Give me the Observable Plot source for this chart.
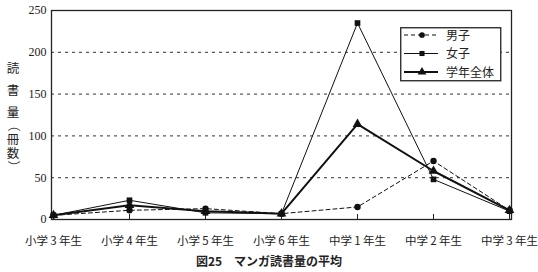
<!DOCTYPE html>
<html><head><meta charset="utf-8">
<script src="https://cdn.jsdelivr.net/npm/d3@7"></script>
<script src="https://cdn.jsdelivr.net/npm/@observablehq/plot@0.6"></script>
<style>
body{margin:0;background:#fff;}
#wrap{position:relative;width:538px;height:272px;font-family:"Noto Sans CJK JP",sans-serif;}
#ytitle{position:absolute;left:0;top:0;}
#caption{position:absolute;left:0;top:252px;width:538px;text-align:center;font-size:12px;font-weight:bold;color:#222;}
#legend{position:absolute;left:400px;top:27px;}
</style></head>
<body><div id="wrap"></div>
<script>
const categories = ["小学3年生","小学4年生","小学5年生","小学6年生","中学1年生","中学2年生","中学3年生"];
const seriesNames = ["男子","女子","学年全体"];
const boys  = [5, 11, 13, 7, 15, 70, 11];
const girls = [5, 23, 8, 7, 235, 48, 10];
const total = [5, 17, 10, 7, 114, 58, 11];
const yTicks = [0, 50, 100, 150, 200, 250];
const gridTicks = [50, 100, 150, 200];
const yTitle = "読書量（冊数）";

const styles = [
  {symbol:"circle", dash:"4,3", sw:1, r:3.2},
  {symbol:"square", dash:null, sw:1, r:3.2},
  {symbol:"triangle", dash:null, sw:2, r:3.6}
];
const valuesBySeries = [boys, girls, total];
const rows = [];
valuesBySeries.forEach((vals, s) => vals.forEach((v, i) => rows.push({series: seriesNames[s], cat: categories[i], v})));

const wrap = document.getElementById("wrap");
const marks = [
  Plot.ruleY(gridTicks, {stroke:"#333", strokeDasharray:"3,4", strokeWidth:1}),
  Plot.ruleX(categories, {x: d=>d, y1:0, y2:6, stroke:"#222"}),
  Plot.frame({stroke:"#222", strokeWidth:1.3})
];
seriesNames.forEach((name, s) => {
  const data = rows.filter(r => r.series === name);
  const st = styles[s];
  marks.push(Plot.line(data, {x:"cat", y:"v", stroke:"#111", strokeWidth:st.sw, strokeDasharray:st.dash}));
  marks.push(Plot.dot(data, {x:"cat", y:"v", symbol:()=>st.symbol, fill:"#111", r:st.r}));
});
marks.push(Plot.axisY({ticks: yTicks, tickSize:0, tickPadding:5, fontSize:12, fontFamily:"Liberation Serif, serif", label:null}));
marks.push(Plot.axisX({tickSize:0, tickPadding:17, fontSize:11.5, fontFamily:"Noto Sans CJK JP", label:null,
  tickFormat: d => d.replace(/(\d)/, "\u2009$1\u2009")}));

const chart = Plot.plot({
  width:538, height:250,
  marginTop:10, marginBottom:31, marginLeft:51, marginRight:27,
  x:{type:"point", domain:categories, padding:0},
  y:{domain:[0,250]},
  symbol:{type:"identity"},
  style:{color:"#222", background:"#fff"},
  marks
});
wrap.appendChild(chart);

// vertical y-axis title as a single text element with per-glyph positions
const fs = 12.5;
const centers = [68, 90, 112, 128, 139, 153, 164];
const xs = [], ys = [], rots = [];
[...yTitle].forEach((c, i) => {
  if (c === "（") { xs.push(8.5); ys.push(centers[i] - 9); rots.push(90); }
  else if (c === "）") { xs.push(8.5); ys.push(centers[i] - 3.5); rots.push(90); }
  else { xs.push(13 - fs/2); ys.push(centers[i] + 0.38*fs); rots.push(0); }
});
const ySvg = d3.select(wrap).append("svg").attr("id","ytitle").attr("width",26).attr("height",250);
ySvg.append("text")
  .attr("x", xs.join(" ")).attr("y", ys.join(" ")).attr("rotate", rots.join(" "))
  .attr("font-size", fs).attr("font-family","Noto Sans CJK JP").attr("fill","#222")
  .text(yTitle);

const cap = document.createElement("div");
cap.id = "caption";
cap.textContent = "図25　マンガ読書量の平均";
wrap.appendChild(cap);

// legend
const lg = d3.select(wrap).append("svg").attr("id","legend").attr("width",102).attr("height",55);
lg.append("rect").attr("x",0.75).attr("y",0.75).attr("width",100).attr("height",53).attr("fill","#fff").attr("stroke","#222").attr("stroke-width",1.3);
seriesNames.forEach((name, s) => {
  const st = styles[s];
  const cy = 8 + s*18.5;
  lg.append("line").attr("x1",4).attr("x2",38).attr("y1",cy).attr("y2",cy)
    .attr("stroke","#111").attr("stroke-width",st.sw).attr("stroke-dasharray",st.dash);
  const sym = d3.symbol().type({circle:d3.symbolCircle, square:d3.symbolSquare, triangle:d3.symbolTriangle}[st.symbol]).size(Math.PI*st.r*st.r*0.8);
  lg.append("path").attr("d", sym()).attr("transform",`translate(22,${cy})`).attr("fill","#111");
  lg.append("text").attr("x",46).attr("y",cy+4.5).attr("font-size",12).attr("font-family","Noto Sans CJK JP").attr("fill","#222").text(name);
});
</script></body></html>
